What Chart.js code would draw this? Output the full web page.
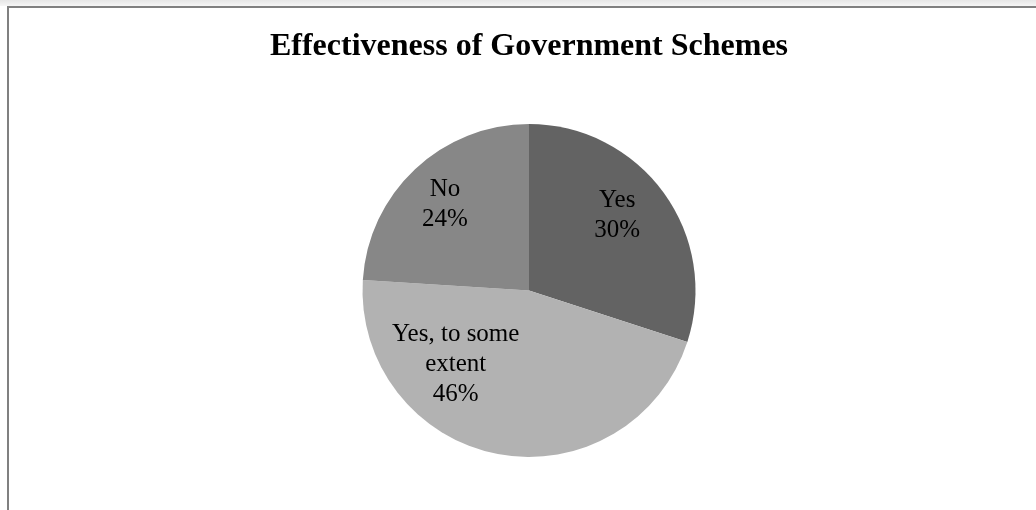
<!DOCTYPE html>
<html>
<head>
<meta charset="utf-8">
<title>Effectiveness of Government Schemes</title>
<script src="https://cdn.jsdelivr.net/npm/chart.js@4/dist/chart.umd.min.js"></script>
<style>
  html, body { margin: 0; padding: 0; background: #ffffff; }
  #wrap { width: 1036px; height: 510px; position: relative; }
</style>
</head>
<body>
<div id="wrap"><canvas id="chart" width="1036" height="510"></canvas></div>
<script>
// Survey responses
const categories = ["Yes", "Yes, to some extent", "No"];
const shares = [30, 46, 24];
const sliceColors = ["#636363", "#b2b2b2", "#878787"];
// Text shown inside each slice (category name wrapped, then the percentage)
const labelLines = [["Yes"], ["Yes, to some", "extent"], ["No"]];
// Where each label block sits, as a fraction of the radius from the centre
const labelOffsets = [[0.53, -0.46], [-0.44, 0.435], [-0.505, -0.53]];

const FONT = "'Liberation Serif', 'Times New Roman', serif";

// Frame around the chart: shaded strip at the top plus top and left rules
const framePlugin = {
  id: 'frame',
  beforeDraw(chart) {
    const ctx = chart.ctx;
    ctx.save();
    const g = ctx.createLinearGradient(0, 0, 0, 6);
    g.addColorStop(0, '#e6e6e6');
    g.addColorStop(1, '#f6f6f6');
    ctx.fillStyle = g;
    ctx.fillRect(0, 0, chart.width, 6);
    ctx.fillStyle = '#808080';
    ctx.fillRect(7, 6, chart.width - 7, 2);
    ctx.fillRect(7, 6, 2, chart.height - 6);
    ctx.restore();
  }
};

// Category name and percentage written inside each slice
const sliceLabels = {
  id: 'sliceLabels',
  afterDatasetsDraw(chart) {
    const ctx = chart.ctx;
    const meta = chart.getDatasetMeta(0);
    const total = shares.reduce((a, b) => a + b, 0);
    const size = 25, lineH = 30, capH = size * 0.66;
    ctx.save();
    ctx.font = size + 'px ' + FONT;
    ctx.fillStyle = '#000000';
    ctx.textAlign = 'center';
    ctx.textBaseline = 'alphabetic';
    meta.data.forEach((arc, i) => {
      const r = arc.outerRadius;
      const cx = arc.x + labelOffsets[i][0] * r;
      const cy = arc.y + labelOffsets[i][1] * r;
      const lines = labelLines[i].concat([Math.round(shares[i] / total * 100) + '%']);
      const n = lines.length;
      lines.forEach((t, k) => {
        ctx.fillText(t, cx, cy + (k - (n - 1) / 2) * lineH + capH / 2);
      });
    });
    ctx.restore();
  }
};

new Chart(document.getElementById('chart'), {
  type: 'pie',
  data: {
    labels: categories,
    datasets: [{
      data: shares,
      backgroundColor: sliceColors,
      borderWidth: 0
    }]
  },
  options: {
    responsive: false,
    animation: false,
    rotation: 0,
    layout: { padding: { left: 22, right: 0, top: 0, bottom: 53 } },
    plugins: {
      legend: { display: false },
      tooltip: { enabled: false },
      title: {
        display: true,
        text: 'Effectiveness of Government Schemes',
        color: '#000000',
        font: { family: FONT, size: 32, weight: 'bold', lineHeight: 1.2 },
        padding: { top: 28, bottom: 57.6 }
      }
    }
  },
  plugins: [framePlugin, sliceLabels]
});
</script>
</body>
</html>
